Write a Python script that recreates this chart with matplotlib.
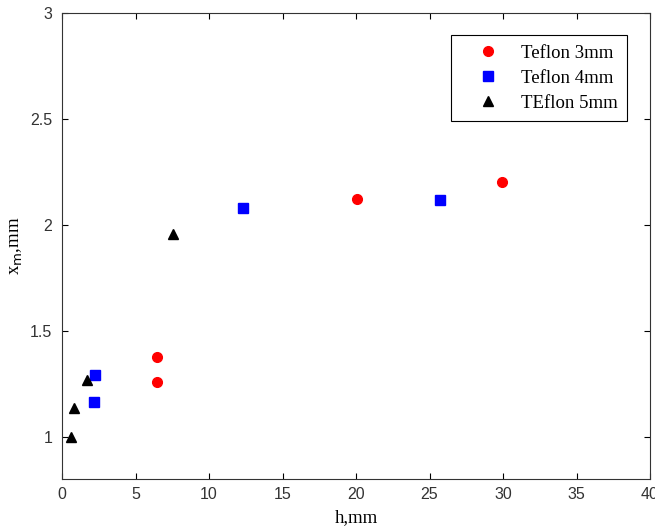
import matplotlib
matplotlib.use("Agg")
import matplotlib.pyplot as plt

# Teflon 3mm
h3 = [6.47, 6.47, 20.05, 29.95]
x3 = [1.376, 1.257, 2.122, 2.203]
# Teflon 4mm
h4 = [2.24, 2.18, 12.33, 25.7]
x4 = [1.291, 1.163, 2.078, 2.116]
# TEflon 5mm
h5 = [0.59, 0.82, 1.72, 7.55]
x5 = [1.0, 1.136, 1.267, 1.958]

fig = plt.figure(figsize=(6.55, 5.3), dpi=100)
ax = fig.add_axes([0.0947, 0.0962, 0.8977, 0.879])

ax.plot(h3, x3, 'o', color='red', markersize=7, label='Teflon 3mm')
ax.plot(h4, x4, 's', color='blue', markersize=7, label='Teflon 4mm')
ax.plot(h5, x5, '^', color='black', markersize=7.5, label='TEflon 5mm')

ax.set_xlim(0, 40)
ax.set_ylim(0.8, 3)
ax.set_xticks(range(0, 45, 5))
ax.set_yticks([1, 1.5, 2, 2.5, 3])
ax.set_yticklabels(['1', '1.5', '2', '2.5', '3'])
ax.tick_params(direction='in', top=True, right=True, length=4.5, width=0.8,
               labelsize=11.5, labelcolor='#333333')
ax.tick_params(axis='x', pad=6)
ax.tick_params(axis='y', pad=7)
for lab in ax.get_xticklabels() + ax.get_yticklabels():
    lab.set_fontfamily('Liberation Sans')
for s in ax.spines.values():
    s.set_linewidth(0.8)
    s.set_color('#333333')

ax.set_xlabel('h,mm', fontfamily='Liberation Serif', fontsize=13.5, labelpad=5)
ax.set_ylabel(r'x$_{\rm m}$,mm', fontfamily='Liberation Serif', fontsize=13.5, labelpad=4)

leg = ax.legend(loc='upper right', bbox_to_anchor=(0.961, 0.953), borderaxespad=0,
                fancybox=False, edgecolor='black', framealpha=1,
                prop={'family': 'Liberation Serif', 'size': 13.5},
                handletextpad=0.25, borderpad=0.5, labelspacing=0.42, handlelength=3.0)
leg.get_frame().set_linewidth(0.8)

plt.savefig('out.png', dpi=100)
